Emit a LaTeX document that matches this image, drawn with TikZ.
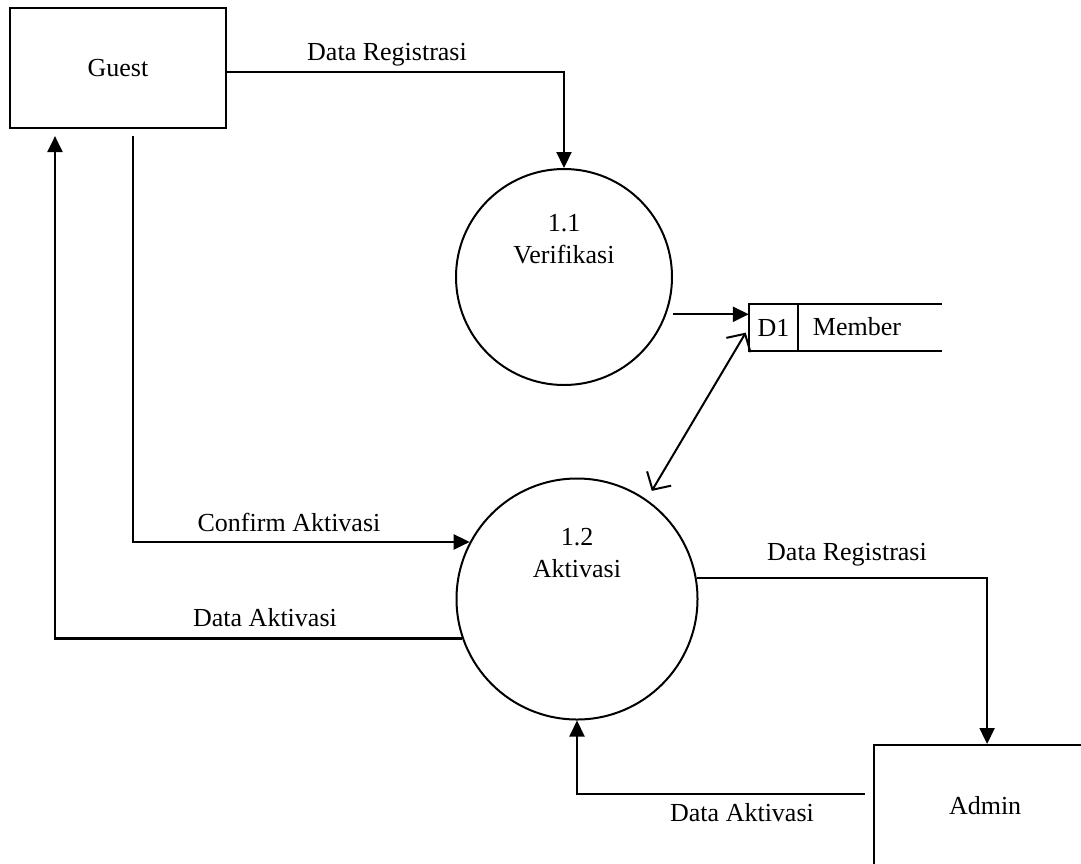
\documentclass[tikz,border=0pt]{standalone}
\usepackage{fontspec}
\setmainfont{Liberation Serif}
\usetikzlibrary{arrows.meta,calc}

\tikzset{
  txt/.style={font=\fontsize{26}{32}\selectfont, inner sep=0pt},
  entity/.style={draw, line width=2.2pt, font=\fontsize{26}{32}\selectfont},
  process/.style={draw, circle, line width=2pt, inner sep=0pt},
  flow/.style={line width=2.2pt, -{Triangle[length=16pt,width=15pt]}},
  biflow/.style={line width=2pt, {Straight Barb[length=13pt,width=28pt]}-{Straight Barb[length=13pt,width=28pt]}},
  plain/.style={line width=2.2pt}
}

\begin{document}
\begin{tikzpicture}[x=1pt,y=-1pt]
\clip (0,0) rectangle (1081,863);
\fill[white] (0,0) rectangle (1081,863);

% external entities
\node[entity, minimum width=216, minimum height=120] (guest) at (118,68) {Guest};
\node[entity, anchor=north west, minimum width=222, minimum height=120] (admin) at (873,744) {Admin};

% processes
\node[process, minimum size=216] (p11) at (564,277) {};
\node[txt, align=center] (p11t) at (564,239) {1.1\\Verifikasi};
\node[process, minimum size=241] (p12) at (577,599) {};
\node[txt, align=center] (p12t) at (577,553) {1.2\\Aktivasi};

% data store
\node[txt, minimum width=49, minimum height=47] (d1) at (773.5,327.5) {D1};
\node[txt] (mem) at (857,327) {Member};
\draw[plain] (d1.north west) rectangle (d1.south east);
\draw[plain] (d1.north east) -- ++(144,0);
\draw[plain] (d1.south east) -- ++(144,0);

% data flows
\draw[flow] ($(guest.east)+(0,4)$) -| (p11.north);
\draw[flow, shorten <=7pt] (p11.-20) -- (d1.west |- p11.-20);
\draw[biflow, shorten <=10pt, shorten >=6pt] (p12.55) -- (d1.west);
\draw[flow] ($(guest.south)+(15,7)$) |- (p12.152);
\draw[flow] (p12.199) -| ($(guest.south)+(-63,7)$);
\draw[flow] (p12.10) -| ($(admin.north)+(2,0)$);
\draw[flow] ($(admin.west)+(-8,-11)$) -| (p12.south);

% flow labels
\node[txt] (l1) at (387,55) {Data Registrasi};
\node[txt] (l2) at (289,522) {Confirm Aktivasi};
\node[txt] (l3) at (265,618) {Data Aktivasi};
\node[txt] (l4) at (847,555) {Data Registrasi};
\node[txt] (l5) at (742,813) {Data Aktivasi};
\end{tikzpicture}
\end{document}
